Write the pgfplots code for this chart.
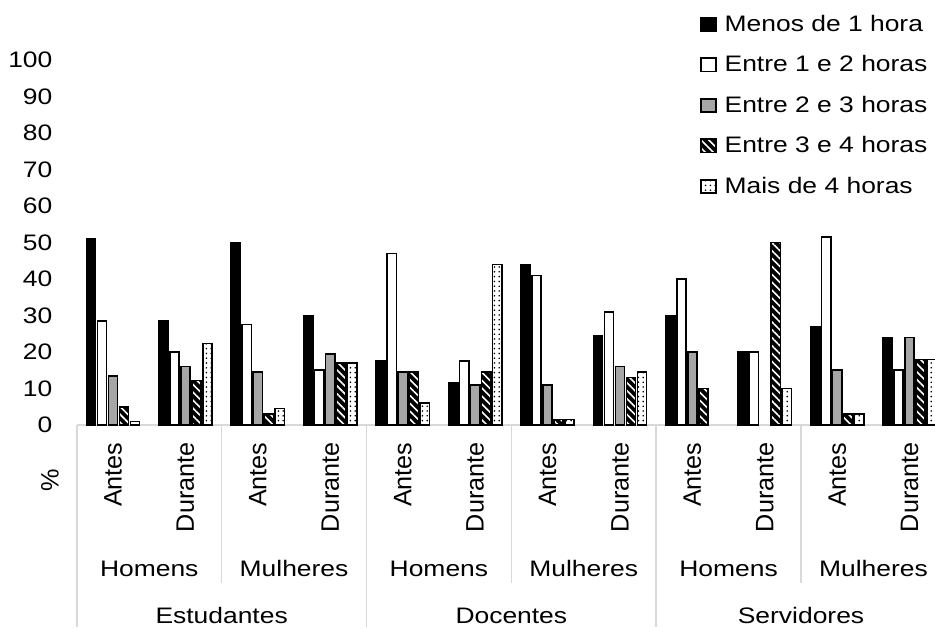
\documentclass[border=0pt]{standalone}
\usepackage{fontspec}
\setmainfont{Liberation Sans}
\newfontfamily\widefont[FakeStretch=1.18]{Liberation Sans}
\usepackage{pgfplots}
\usepackage{pgfplotstable}
\pgfplotsset{compat=1.18}
\usetikzlibrary{patterns.meta}
\definecolor{barGray}{RGB}{166,166,166}
\definecolor{sepGray}{RGB}{217,217,217}

\pgfplotstableread{
x m1 m2 m3 m4 m5
0 51 28.5 13.5 5 1
1 28.5 20 16 12.2 22.3
2 50 27.5 14.5 3 4.5
3 30 15 19.5 17 17
4 17.5 47 14.5 14.5 6
5 11.5 17.5 11 14.5 44
6 44 41 11 1.5 1.5
7 24.5 31 16 13 14.5
8 30 40 20 10 nan
9 20 20 nan 50 10
10 27 51.5 15 3 3
11 24 15 24 18 18
}\datatable

\newcommand\chartfont{\widefont\fontsize{11.2}{13.5}\selectfont}
\newcommand\rotfont{\fontsize{12.6}{15}\selectfont}

\begin{document}
\begin{tikzpicture}
\useasboundingbox (0,0) rectangle (467.5pt,313.5pt);
\begin{axis}[
  at={(38.4pt,101pt)}, anchor=south west,
  scale only axis, width=429.1pt, height=182.5pt,
  xmin=-0.5, xmax=11.35, ymin=0, ymax=100,
  clip=false,
  ybar=0.9pt, bar width=4.6pt,
  axis x line*=bottom, axis y line*=left,
  x axis line style={draw=sepGray, line width=0.8pt},
  y axis line style={draw=none},
  major tick length=0pt,
  xtick={0,...,11},
  xticklabels={Antes,Durante,Antes,Durante,Antes,Durante,Antes,Durante,Antes,Durante,Antes,Durante},
  xticklabel style={yshift=-8.5pt, rotate=90, anchor=east, inner sep=0pt, font=\rotfont},
  ytick={0,10,...,100},
  yticklabel style={anchor=east, inner sep=0pt, xshift=-12pt, font=\chartfont},
  /pgf/number format/assume math mode=true,
  ylabel={\%},
  every axis y label/.style={at={(axis description cs:0,0)}, xshift=-13.4pt, yshift=-27.5pt, rotate=90, anchor=center, font=\rotfont},
  legend style={at={(axis description cs:0.726,1.137)}, anchor=north west, draw=none, fill=none, inner sep=0pt, font=\chartfont, row sep=6.25pt, column sep=3pt, nodes={inner sep=1pt, text height=9.5pt, text depth=2.5pt}},
  legend cell align=left,
  legend image code/.code={\draw[#1, line width=0.8pt] (0pt,-3.3pt) rectangle (7.4pt,3.3pt);},
  every axis plot/.append style={draw=black, line width=0.8pt},
]
\addplot[fill=black] table[x=x,y=m1]{\datatable};
\addplot[fill=white] table[x=x,y=m2]{\datatable};
\addplot[fill=barGray] table[x=x,y=m3]{\datatable};
\addplot[fill=black, postaction={pattern={Lines[angle=-45,distance=2.8pt,line width=0.8pt]}, pattern color=white, draw=black}] table[x=x,y=m4]{\datatable};
\addplot[fill=white, postaction={pattern={Dots[distance=2.4pt,radius=0.45pt]}, pattern color=black, draw=black}] table[x=x,y=m5]{\datatable};
\legend{Menos de 1 hora, Entre 1 e 2 horas, Entre 2 e 3 horas, Entre 3 e 4 horas, Mais de 4 horas}

\draw[sepGray, line width=0.8pt] (axis cs:-0.5,0) -- ++(0pt,-101pt);
\draw[sepGray, line width=0.8pt] (axis cs:3.5,0) -- ++(0pt,-101pt);
\draw[sepGray, line width=0.8pt] (axis cs:7.5,0) -- ++(0pt,-101pt);
\draw[sepGray, line width=0.8pt] (axis cs:11.5,0) -- ++(0pt,-101pt);
\draw[sepGray, line width=0.8pt] (axis cs:1.5,0) -- ++(0pt,-79pt);
\draw[sepGray, line width=0.8pt] (axis cs:5.5,0) -- ++(0pt,-79pt);
\draw[sepGray, line width=0.8pt] (axis cs:9.5,0) -- ++(0pt,-79pt);

\node[font=\chartfont, anchor=base, yshift=-75.9pt] at (axis cs:0.5,0) {Homens};
\node[font=\chartfont, anchor=base, yshift=-75.9pt] at (axis cs:2.5,0) {Mulheres};
\node[font=\chartfont, anchor=base, yshift=-75.9pt] at (axis cs:4.5,0) {Homens};
\node[font=\chartfont, anchor=base, yshift=-75.9pt] at (axis cs:6.5,0) {Mulheres};
\node[font=\chartfont, anchor=base, yshift=-75.9pt] at (axis cs:8.5,0) {Homens};
\node[font=\chartfont, anchor=base, yshift=-75.9pt] at (axis cs:10.5,0) {Mulheres};
\node[font=\chartfont, anchor=base, yshift=-99pt] at (axis cs:1.5,0) {Estudantes};
\node[font=\chartfont, anchor=base, yshift=-99pt] at (axis cs:5.5,0) {Docentes};
\node[font=\chartfont, anchor=base, yshift=-99pt] at (axis cs:9.5,0) {Servidores};
\end{axis}
\end{tikzpicture}
\end{document}
